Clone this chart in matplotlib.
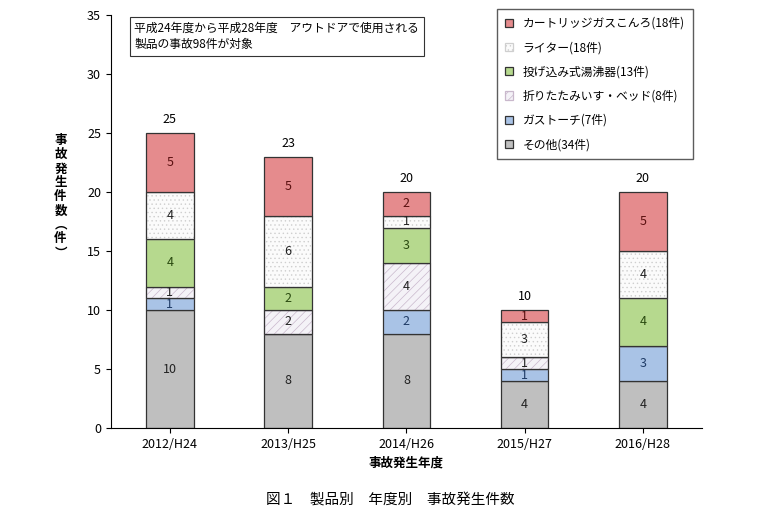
import matplotlib
matplotlib.use("Agg")
import matplotlib.pyplot as plt
import numpy as np

plt.rcParams['font.family'] = ['Noto Sans CJK JP', 'DejaVu Sans']
plt.rcParams['hatch.linewidth'] = 0.5

years = ["2012/H24", "2013/H25", "2014/H26", "2015/H27", "2016/H28"]
series_names = ["その他(34件)", "ガストーチ(7件)", "折りたたみいす・ベッド(8件)",
                "投げ込み式湯沸器(13件)", "ライター(18件)", "カートリッジガスこんろ(18件)"]
sonota = [10, 8, 8, 4, 4]
torch = [1, 0, 2, 1, 3]
isu = [1, 2, 4, 1, 0]
yuwakashi = [4, 2, 3, 0, 4]
lighter = [4, 6, 1, 3, 4]
konro = [5, 5, 2, 1, 5]
totals = [25, 23, 20, 10, 20]

data = [sonota, torch, isu, yuwakashi, lighter, konro]
colors = ["#bfbfbf", "#a9c3e6", "#f4f2f7", "#b6d98e", "#fbfbfb", "#e58b8d"]
hatches = [None, None, "////", None, "....", None]
hcolors = [None, None, "#c9b8cc", None, "#cfcfcf", None]
textcolors = ["#222222", "#1f3b66", "#222222", "#2a4a10", "#222222", "#5a1010"]

fig = plt.figure(figsize=(7.8, 5.24), dpi=100)
ax = fig.add_axes([0.142, 0.183, 0.758, 0.788])
x = np.arange(len(years))
bottom = np.zeros(len(years))
handles = []
for vals, c, h, hc, tc, name in zip(data, colors, hatches, hcolors, textcolors, series_names):
    v = np.array(vals, dtype=float)
    bars = ax.bar(x, v, 0.4, bottom=bottom, color=c, edgecolor="#333333", linewidth=0.9, label=name)
    if h:
        for b in bars:
            b.set_hatch(h)
            b.set_edgecolor(hc)
        ax.bar(x, v, 0.4, bottom=bottom, fill=False, edgecolor="#333333", linewidth=0.9)
    for xi, vi, bi in zip(x, v, bottom):
        if vi > 0:
            ax.text(xi, bi + vi / 2, str(int(vi)), ha="center", va="center", fontsize=9, color=tc)
    handles.append(bars)
    bottom += v
for xi, t in zip(x, totals):
    ax.text(xi, t + 0.6, str(t), ha="center", va="bottom", fontsize=9)

ax.set_xlim(-0.5, 4.5)
ax.set_ylim(0, 35)
ax.set_yticks(range(0, 36, 5))
ax.set_xticks(x)
ax.set_xticklabels(years, fontsize=9)
ax.tick_params(axis="y", labelsize=9)
ax.spines["top"].set_visible(False)
ax.spines["right"].set_visible(False)
ax.set_xlabel("事故発生年度", fontsize=9, fontweight="bold", labelpad=4)
ax.set_ylabel("事\n故\n発\n生\n件\n数\n︵\n件\n︶", rotation=0, fontsize=9, fontweight="bold",
              linespacing=1.1, va="center", labelpad=22)
ax.yaxis.set_label_coords(-0.085, 0.56)

leg = ax.legend(handles=handles[::-1], labels=series_names[::-1], loc="upper right",
                bbox_to_anchor=(0.995, 1.03), fontsize=8.5, frameon=True, fancybox=False,
                edgecolor="#333333", handlelength=0.7, handleheight=0.7, labelspacing=0.95,
                borderpad=0.7)
leg.get_frame().set_linewidth(1)

ax.text(0.04, 0.985, "平成24年度から平成28年度　アウトドアで使用される\n製品の事故98件が対象",
        transform=ax.transAxes, fontsize=8.5, va="top", ha="left", linespacing=1.4,
        bbox=dict(boxstyle="square,pad=0.4", fc="white", ec="#333333", lw=0.8))

fig.text(0.5, 0.045, "図１　製品別　年度別　事故発生件数", ha="center", va="center", fontsize=10.5)
fig.savefig("out.png", dpi=100)
